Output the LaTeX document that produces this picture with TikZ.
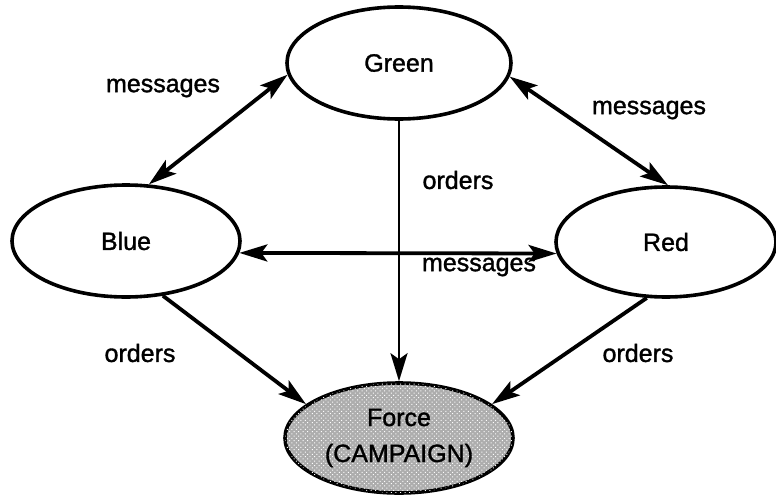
\documentclass[tikz,border=0pt]{standalone}
\usepackage{fontspec}
\setmainfont[FakeBold=1.3]{Liberation Sans}
\usetikzlibrary{shapes.geometric,arrows.meta,patterns.meta}
\begin{document}
\begin{tikzpicture}[x=1pt,y=-1pt,
  party/.style={ellipse, draw=black, line width=3.6pt, inner sep=0pt,
                font=\fontsize{25}{36}\selectfont},
  link/.style={line width=3.8pt, -{Stealth[length=28pt,width=17pt,inset=6pt]}},
  duplex/.style={line width=3.8pt, {Stealth[length=28pt,width=17pt,inset=6pt]}-{Stealth[length=28pt,width=17pt,inset=6pt]}},
  tag/.style={font=\fontsize{25}{30}\selectfont, inner sep=0pt}]
  \useasboundingbox (0,0) rectangle (776,495);
  % the four parties
  \node[party, minimum width=224pt, minimum height=112pt] (green) at (399,63) {Green};
  \node[party, minimum width=228pt, minimum height=112pt] (blue) at (126,241) {Blue};
  \node[party, minimum width=220pt, minimum height=110pt] (red) at (666,242) {Red};
  \node[party, minimum width=228pt, minimum height=110pt, align=center,
        fill=black!32, postaction={pattern={Dots[distance=3.2pt,radius=0.7pt,angle=45]}, pattern color=white}]
        (force) at (399,438) {Force\\(CAMPAIGN)};
  % message links between parties
  \draw[duplex] (green.186) -- (blue.68);
  \draw[duplex] (green.353) -- (red.88);
  \draw[duplex] (blue.-6) -- (red.186);
  % orders to the force
  \draw[link, line width=2.8pt] (green.south) -- (force.north);
  \draw[link] (blue.-56) -- (force.160);
  \draw[link] (red.251) -- (force.20);
  % connector labels
  \node[tag] (m1) at (163,88) {messages};
  \node[tag] (m2) at (649,110) {messages};
  \node[tag] (m3) at (479,267) {messages};
  \node[tag] (o1) at (458,180) {orders};
  \node[tag] (o2) at (140,353) {orders};
  \node[tag] (o3) at (638,353) {orders};
\end{tikzpicture}
\end{document}
